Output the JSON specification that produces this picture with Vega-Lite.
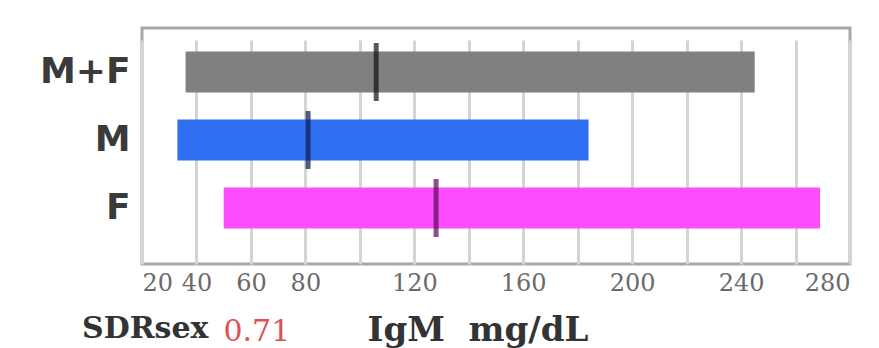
{
  "$schema": "https://vega.github.io/schema/vega-lite/v6.json",
  "width": 708,
  "height": 236,
  "autosize": {"type": "none"},
  "padding": {"left": 142, "top": 28, "right": 29, "bottom": 84},
  "background": "#ffffff",
  "config": {
    "view": {"stroke": "#a8a8a8", "strokeWidth": 3}
  },
  "title": {
    "text": "SDRsex",
    "orient": "bottom",
    "anchor": "start",
    "frame": "group",
    "font": "DejaVu Serif",
    "fontSize": 30,
    "fontWeight": "bold",
    "color": "#333333",
    "dx": -60,
    "dy": -33,
    "offset": 0
  },
  "data": {
    "values": [
      {"group": "M+F", "low": 36, "high": 245, "median": 106},
      {"group": "M", "low": 33, "high": 184, "median": 81},
      {"group": "F", "low": 50, "high": 269, "median": 128}
    ]
  },
  "encoding": {
    "y": {
      "field": "group",
      "type": "nominal",
      "sort": ["M+F", "M", "F"],
      "scale": {"range": [0, 224], "paddingInner": 0.4, "paddingOuter": 0.347},
      "axis": {
        "domain": false,
        "ticks": false,
        "labelFont": "DejaVu Sans",
        "labelFontSize": 36,
        "labelFontWeight": "bold",
        "labelColor": "#3a3a3a",
        "labelPadding": 12,
        "title": "0.71",
        "titleAngle": 0,
        "titleX": 81,
        "titleY": 312,
        "titleAlign": "left",
        "titleBaseline": "alphabetic",
        "titleFont": "DejaVu Serif",
        "titleFontSize": 30,
        "titleFontWeight": "normal",
        "titleColor": "#e05050"
      }
    }
  },
  "layer": [
    {
      "mark": {"type": "bar", "cornerRadius": 0},
      "encoding": {
        "x": {
          "field": "low",
          "type": "quantitative",
          "scale": {"domain": [20, 280], "nice": false, "zero": false},
          "axis": {
            "values": [20, 40, 60, 80, 100, 120, 140, 160, 180, 200, 220, 240, 260, 280],
            "labelExpr": "indexof([100,140,180,220,260], datum.value) >= 0 ? '' : datum.label",
            "domain": false,
            "ticks": false,
            "grid": true,
            "gridColor": "#d4d4d4",
            "gridWidth": 3,
            "labelFont": "DejaVu Serif",
            "labelFontSize": 24,
            "labelColor": "#6a6a6a",
            "labelPadding": 7,
            "title": "IgM\u00a0\u00a0mg/dL",
            "titleX": 225,
            "titleY": 76,
            "titleAlign": "left",
            "titleBaseline": "alphabetic",
            "titleFont": "DejaVu Serif",
            "titleFontSize": 34,
            "titleFontWeight": "bold",
            "titleColor": "#333333"
          }
        },
        "x2": {"field": "high"},
        "color": {
          "field": "group",
          "type": "nominal",
          "scale": {"domain": ["M+F", "M", "F"], "range": ["#808080", "#2f6ff2", "#ff4cff"]},
          "legend": null
        }
      }
    },
    {
      "mark": {"type": "tick", "thickness": 5, "size": 58},
      "encoding": {
        "x": {"field": "median", "type": "quantitative"},
        "color": {
          "field": "group",
          "type": "nominal",
          "scale": {"domain": ["M+F", "M", "F"], "range": ["#111111", "#0a1a50", "#5a0a5a"]},
          "legend": null
        }
      }
    }
  ],
  "resolve": {"scale": {"color": "independent"}}
}
